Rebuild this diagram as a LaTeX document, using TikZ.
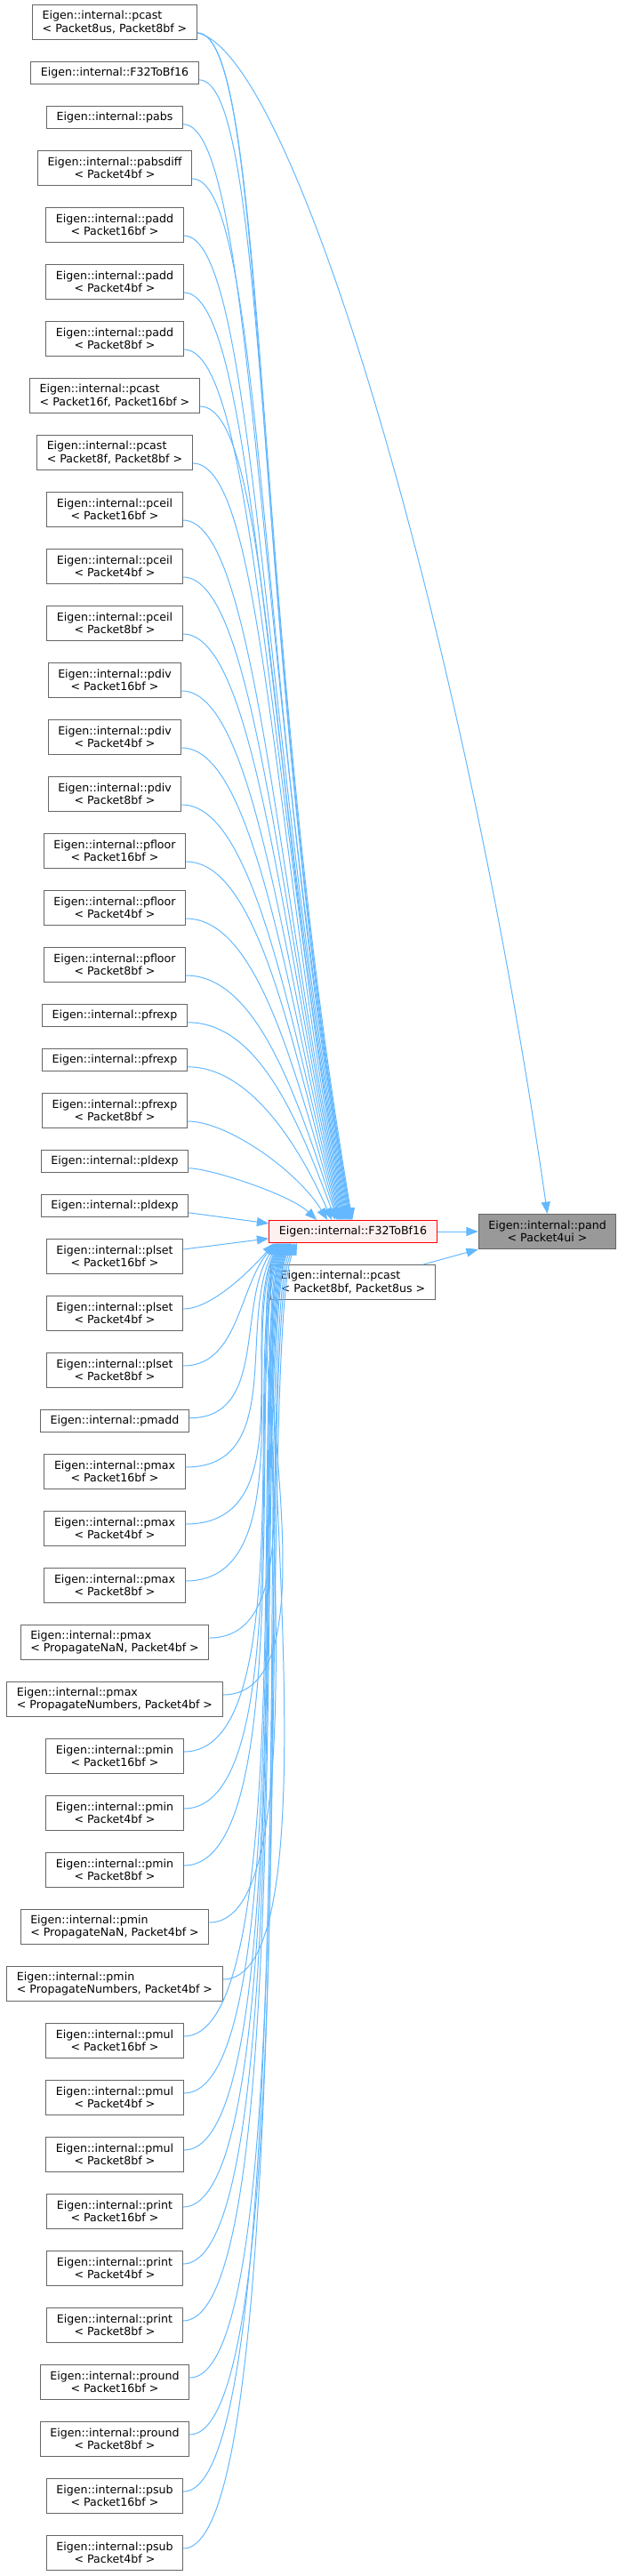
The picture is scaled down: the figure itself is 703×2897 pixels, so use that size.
\documentclass[tikz,border=0pt]{standalone}
\usepackage{fontspec}
\setmainfont{DejaVu Sans}
\usetikzlibrary{arrows.meta,positioning,calc}
\definecolor{callblue}{RGB}{99,184,255}
\definecolor{boxgray}{RGB}{102,102,102}
\definecolor{focusgray}{RGB}{153,153,153}
\definecolor{hotfill}{RGB}{255,240,240}
\newcommand{\dxfont}{\fontsize{9.45}{10.75}\selectfont}
% caller above the converter: arrow ends on its top edge, #2 = px from its left side
\newcommand{\upcall}[2]{%
  \draw[call] let \p1=($(#1.east)!0.6!(#1.south east)$),
    \p2=($(f32.north west)+(#2,0)$),
    \n1={0.5*((\y1)-(\y2))}, \n2={min(60pt,0.4*((\y1)-(\y2)))} in
    (\p1) .. controls +(\n2,0pt) and +({-0.13*\n1-20pt},\n1) .. (\p2);}
% caller below the converter: arrow ends on its bottom edge
\newcommand{\downcall}[2]{%
  \draw[call] let \p1=($(#1.east)!0.25!(#1.north east)$),
    \p2=($(f32.south west)+(#2,0)$),
    \n1={(\y2)-(\y1)} in
    (\p1) .. controls +({min(100pt,0.45*\n1)},0pt)
      and +({-min(34pt,0.3*\n1)},{-min(75pt,0.35*\n1)}) .. (\p2);}

\begin{document}
\begin{tikzpicture}[x=0.75pt,y=-0.75pt,node distance=18pt,
    fn/.style={rectangle,draw=boxgray,fill=white,line width=0.75pt,
      minimum height=18.75pt,inner xsep=8.4pt,inner ysep=2pt,font=\dxfont},
    tpl/.style={fn,minimum height=29.25pt,align=center},
    tplw/.style={fn,minimum height=29.25pt,align=left},
    call/.style={draw=callblue,line width=0.75pt,-{Triangle[length=10pt,width=7.5pt]}}]
  \useasboundingbox (0,0) rectangle (703,2897);

  % callers, one column
  \node[tplw] (pcastUs) at (129,25) {Eigen::internal::pcast\\< Packet8us, Packet8bf >};
  \node[fn,below=of pcastUs] (toBf) {Eigen::internal::F32ToBf16};
  \node[fn,below=of toBf] (pabs) {Eigen::internal::pabs};
  \node[tpl,below=of pabs] (pabsdiff) {Eigen::internal::pabsdiff\\< Packet4bf >};
  \node[tpl,below=of pabsdiff] (padd16) {Eigen::internal::padd\\< Packet16bf >};
  \node[tpl,below=of padd16] (padd4) {Eigen::internal::padd\\< Packet4bf >};
  \node[tpl,below=of padd4] (padd8) {Eigen::internal::padd\\< Packet8bf >};
  \node[tplw,below=of padd8] (pcast16f) {Eigen::internal::pcast\\< Packet16f, Packet16bf >};
  \node[tplw,below=of pcast16f] (pcast8f) {Eigen::internal::pcast\\< Packet8f, Packet8bf >};
  \node[tpl,below=of pcast8f] (pceil16) {Eigen::internal::pceil\\< Packet16bf >};
  \node[tpl,below=of pceil16] (pceil4) {Eigen::internal::pceil\\< Packet4bf >};
  \node[tpl,below=of pceil4] (pceil8) {Eigen::internal::pceil\\< Packet8bf >};
  \node[tpl,below=of pceil8] (pdiv16) {Eigen::internal::pdiv\\< Packet16bf >};
  \node[tpl,below=of pdiv16] (pdiv4) {Eigen::internal::pdiv\\< Packet4bf >};
  \node[tpl,below=of pdiv4] (pdiv8) {Eigen::internal::pdiv\\< Packet8bf >};
  \node[tpl,below=of pdiv8] (pfloor16) {Eigen::internal::pfloor\\< Packet16bf >};
  \node[tpl,below=of pfloor16] (pfloor4) {Eigen::internal::pfloor\\< Packet4bf >};
  \node[tpl,below=of pfloor4] (pfloor8) {Eigen::internal::pfloor\\< Packet8bf >};
  \node[fn,below=of pfloor8] (pfrexpA) {Eigen::internal::pfrexp};
  \node[fn,below=of pfrexpA] (pfrexpB) {Eigen::internal::pfrexp};
  \node[tpl,below=of pfrexpB] (pfrexp8) {Eigen::internal::pfrexp\\< Packet8bf >};
  \node[fn,below=of pfrexp8] (pldexpA) {Eigen::internal::pldexp};
  \node[fn,below=of pldexpA] (pldexpB) {Eigen::internal::pldexp};
  \node[tpl,below=of pldexpB] (plset16) {Eigen::internal::plset\\< Packet16bf >};
  \node[tpl,below=of plset16] (plset4) {Eigen::internal::plset\\< Packet4bf >};
  \node[tpl,below=of plset4] (plset8) {Eigen::internal::plset\\< Packet8bf >};
  \node[fn,below=of plset8] (pmadd) {Eigen::internal::pmadd};
  \node[tpl,below=of pmadd] (pmax16) {Eigen::internal::pmax\\< Packet16bf >};
  \node[tpl,below=of pmax16] (pmax4) {Eigen::internal::pmax\\< Packet4bf >};
  \node[tpl,below=of pmax4] (pmax8) {Eigen::internal::pmax\\< Packet8bf >};
  \node[tplw,below=of pmax8] (pmaxNaN) {Eigen::internal::pmax\\< PropagateNaN, Packet4bf >};
  \node[tplw,below=of pmaxNaN] (pmaxNum) {Eigen::internal::pmax\\< PropagateNumbers, Packet4bf >};
  \node[tpl,below=of pmaxNum] (pmin16) {Eigen::internal::pmin\\< Packet16bf >};
  \node[tpl,below=of pmin16] (pmin4) {Eigen::internal::pmin\\< Packet4bf >};
  \node[tpl,below=of pmin4] (pmin8) {Eigen::internal::pmin\\< Packet8bf >};
  \node[tplw,below=of pmin8] (pminNaN) {Eigen::internal::pmin\\< PropagateNaN, Packet4bf >};
  \node[tplw,below=of pminNaN] (pminNum) {Eigen::internal::pmin\\< PropagateNumbers, Packet4bf >};
  \node[tpl,below=of pminNum] (pmul16) {Eigen::internal::pmul\\< Packet16bf >};
  \node[tpl,below=of pmul16] (pmul4) {Eigen::internal::pmul\\< Packet4bf >};
  \node[tpl,below=of pmul4] (pmul8) {Eigen::internal::pmul\\< Packet8bf >};
  \node[tpl,below=of pmul8] (print16) {Eigen::internal::print\\< Packet16bf >};
  \node[tpl,below=of print16] (print4) {Eigen::internal::print\\< Packet4bf >};
  \node[tpl,below=of print4] (print8) {Eigen::internal::print\\< Packet8bf >};
  \node[tpl,below=of print8] (pround16) {Eigen::internal::pround\\< Packet16bf >};
  \node[tpl,below=of pround16] (pround8) {Eigen::internal::pround\\< Packet8bf >};
  \node[tpl,below=of pround8] (psub16) {Eigen::internal::psub\\< Packet16bf >};
  \node[tpl,below=of psub16] (psub4) {Eigen::internal::psub\\< Packet4bf >};

  % converter and the function itself
  \node[fn,draw=red,fill=hotfill] (f32) at (397,1385) {Eigen::internal::F32ToBf16};
  \node[tpl,fill=focusgray,right=34.5pt of f32] (pand) {Eigen::internal::pand\\< Packet4ui >};
  \node[tplw,below=of f32] (pcastBf) {Eigen::internal::pcast\\< Packet8bf, Packet8us >};

  \draw[call] (f32) -- (pand);
  \draw[call] ($(pcastBf.north east)+(-14,0)$) -- (pand.south west);
  \draw[call] ($(pcastUs.east)!0.6!(pcastUs.south east)$) .. controls (330,60) and (520,700) .. (pand.north);

  \upcall{pcastUs}{94}
  \upcall{pcastUs}{92}
  \upcall{toBf}{93}
  \upcall{pabs}{92}
  \upcall{pabsdiff}{91}
  \upcall{padd16}{90}
  \upcall{padd4}{89}
  \upcall{padd8}{88}
  \upcall{pcast16f}{87}
  \upcall{pcast8f}{86}
  \upcall{pceil16}{85}
  \upcall{pceil4}{84}
  \upcall{pceil8}{83}
  \upcall{pdiv16}{82}
  \upcall{pdiv4}{81}
  \upcall{pdiv8}{80}
  \upcall{pfloor16}{79}
  \upcall{pfloor4}{78}
  \upcall{pfloor8}{77}
  \upcall{pfrexpA}{75}
  \upcall{pfrexpB}{71}
  \upcall{pfrexp8}{66}
  \upcall{pldexpA}{54}
  \draw[call] ($(pldexpB.east)!0.6!(pldexpB.south east)$) -- ($(f32.north west)!0.15!(f32.south west)$);
  \draw[call] ($(plset16.east)!0.4!(plset16.north east)$) -- ($(f32.north west)!0.8!(f32.south west)$);
  \downcall{plset4}{6}
  \downcall{plset8}{8}
  \downcall{pmadd}{9}
  \downcall{pmax16}{10}
  \downcall{pmax4}{11}
  \downcall{pmax8}{12}
  \downcall{pmaxNaN}{13}
  \downcall{pmaxNum}{14}
  \downcall{pmin16}{15}
  \downcall{pmin4}{16}
  \downcall{pmin8}{17}
  \downcall{pminNaN}{18}
  \downcall{pminNum}{19}
  \downcall{pmul16}{20}
  \downcall{pmul4}{21}
  \downcall{pmul8}{22}
  \downcall{print16}{23}
  \downcall{print4}{24}
  \downcall{print8}{25}
  \downcall{pround16}{26}
  \downcall{pround8}{28}
  \downcall{psub16}{30}
  \downcall{psub4}{32}
\end{tikzpicture}
\end{document}
